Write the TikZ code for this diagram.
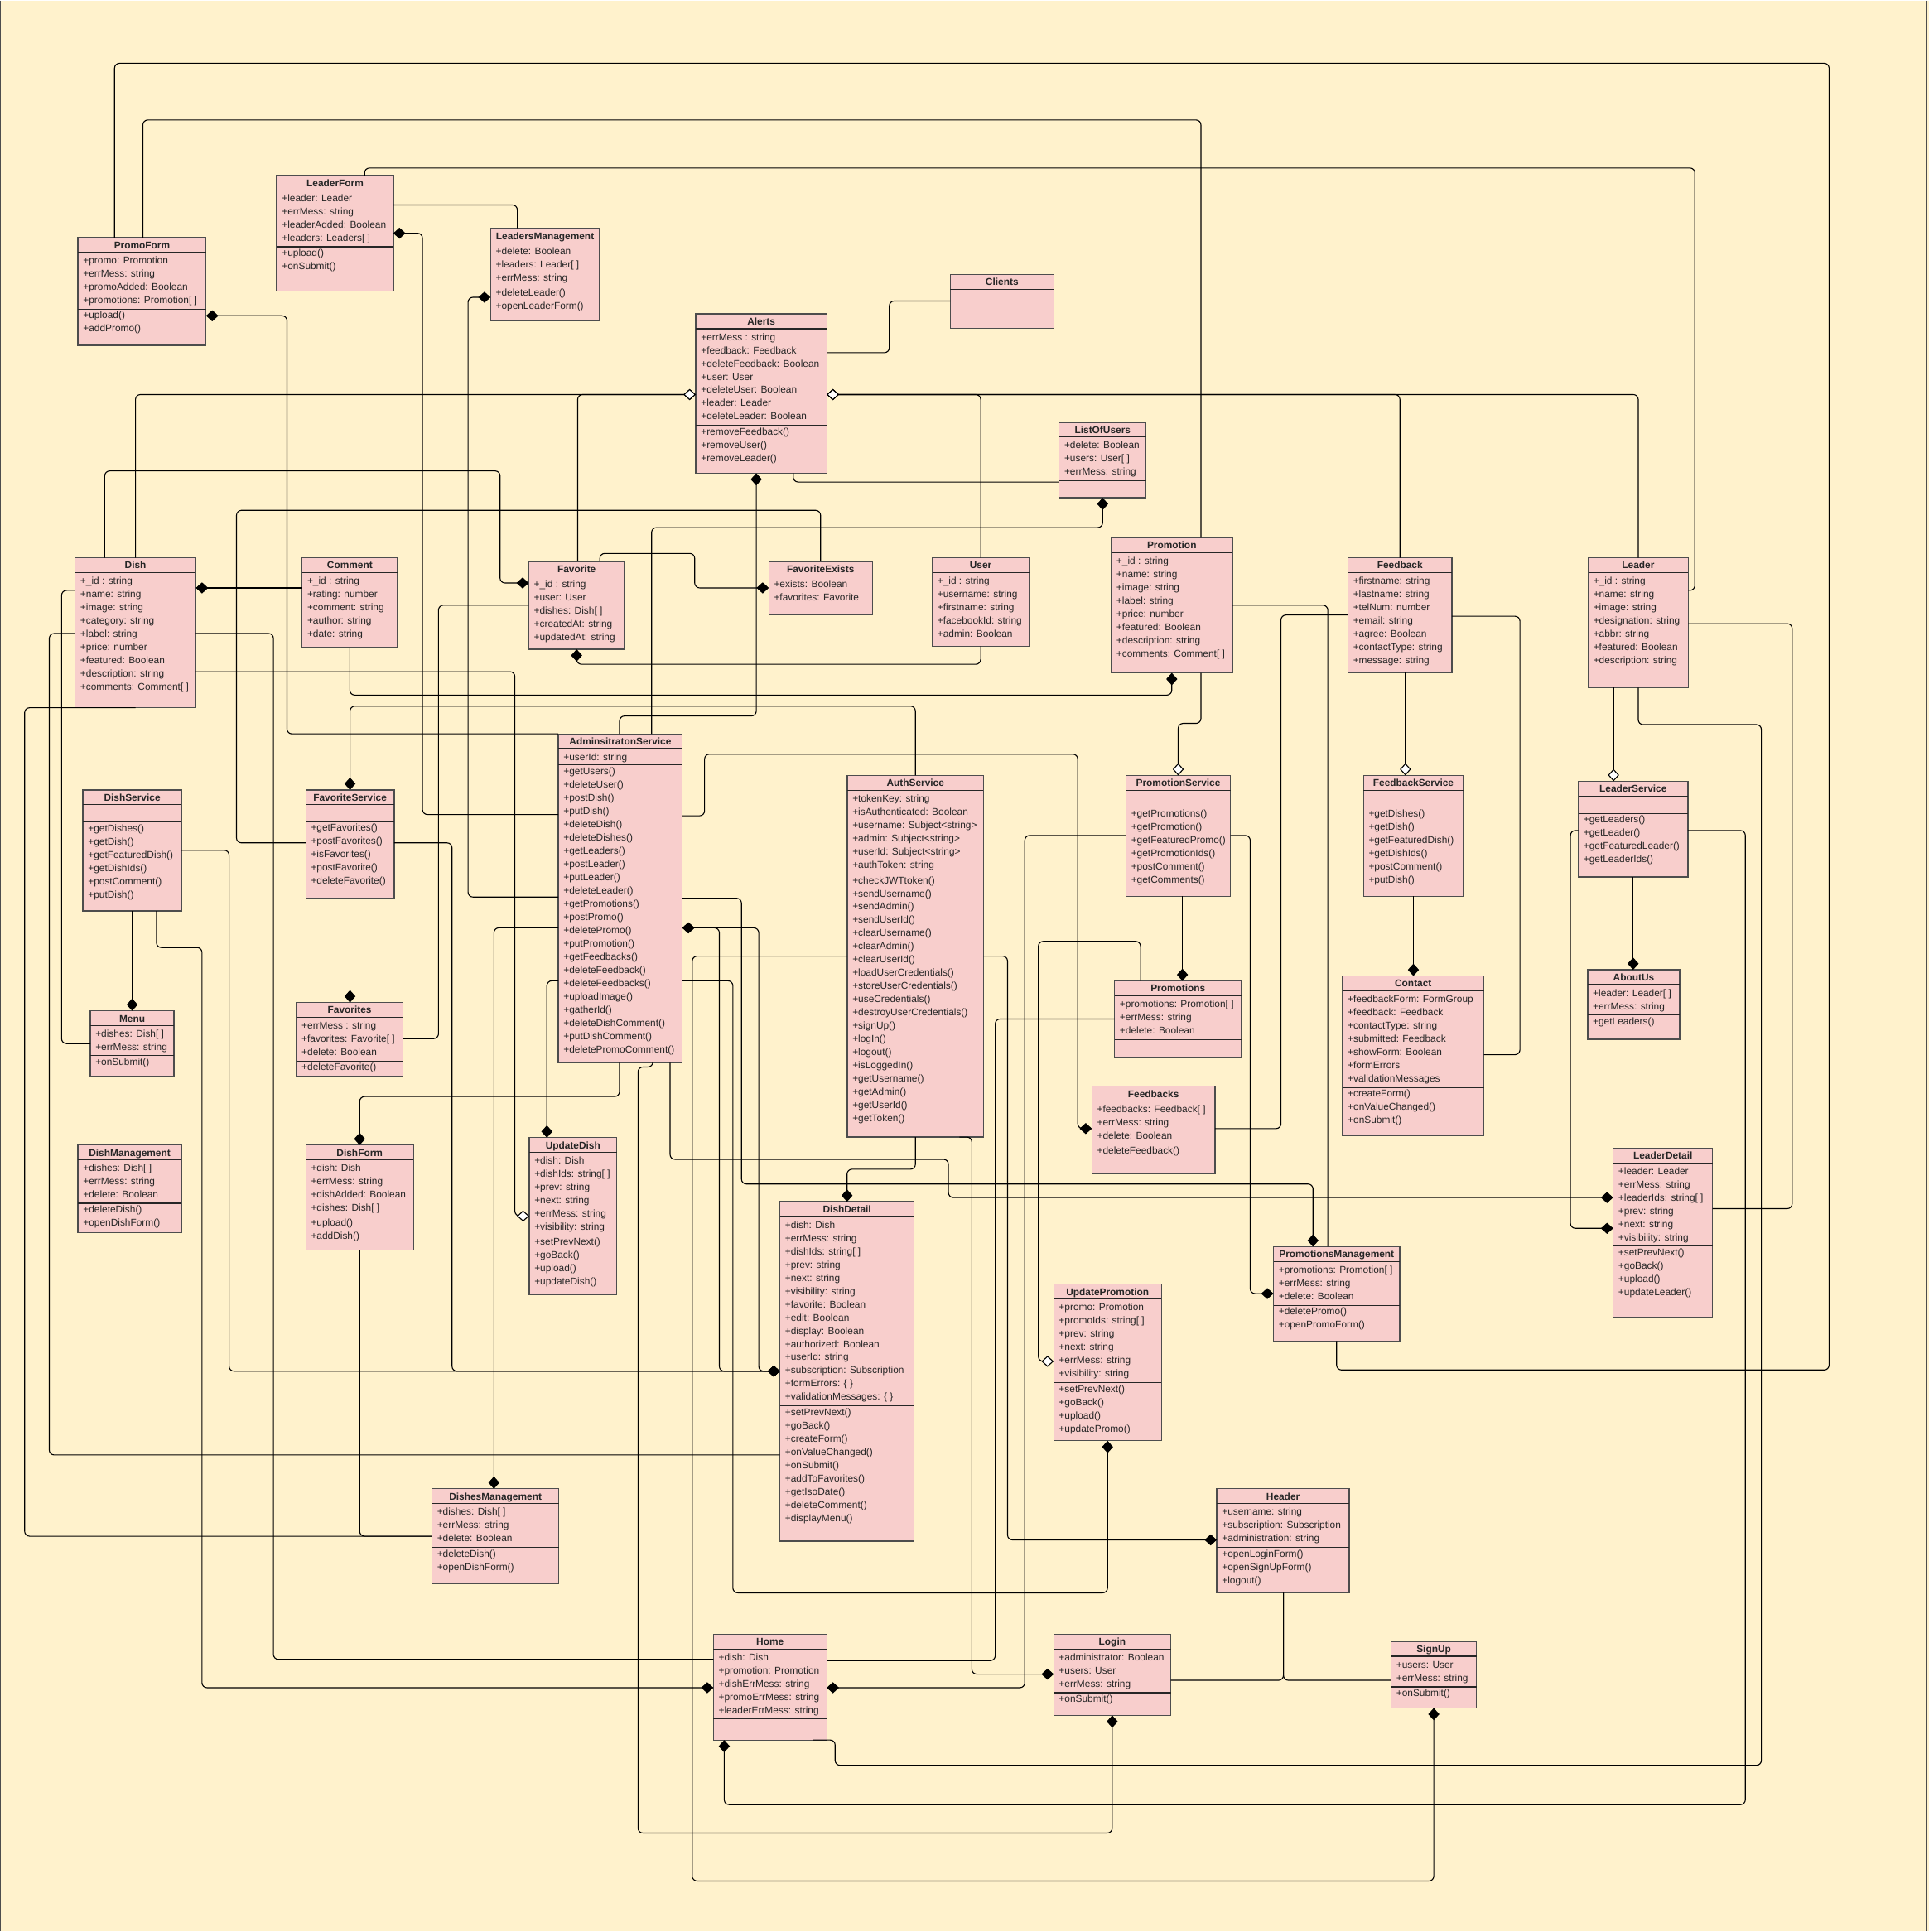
\documentclass[tikz,border=0pt]{standalone}
\usepackage{fontspec}
\setmainfont{Liberation Sans}
\usetikzlibrary{arrows.meta}
\definecolor{paper}{HTML}{FFF2CC}
\definecolor{boxfill}{HTML}{F8CECC}
\definecolor{boxline}{HTML}{4D4D4D}

\tikzset{
  classbox/.style={draw=boxline, fill=boxfill, line width=0.9pt, anchor=north west, inner sep=0pt, outer sep=0pt},
  classrule/.style={draw=black!85, line width=0.8pt},
  classname/.style={anchor=base, inner sep=0pt, text=black!85, font=\bfseries\fontsize{8}{10}\selectfont},
  member/.style={anchor=base west, inner sep=0pt, text=black!85, font=\fontsize{8}{10}\selectfont},
  conn/.style={line width=0.75pt, rounded corners=4pt},
  comp/.style={-{Diamond[length=10pt,width=9pt]}},
  agg/.style={-{Diamond[length=10pt,width=9pt,fill=white]}},
  comp2/.style={{Diamond[length=10pt,width=9pt]}-{Diamond[length=10pt,width=9pt]}}
}

% name, x1, y1, x2, y2, y of the rule above the methods, fields, methods
\newcommand{\umlclass}[8]{%
  \node [classbox, minimum width={#4-#2}, minimum height={#5-#3}] (#1) at (#2,#3) {};
  \draw [classrule] (#2,#3+12) -- (#4,#3+12);
  \node [classname] at ({(#2+#4)/2},#3+9) {#1};
  \foreach \mem [count=\i from 0] in {#7} \node [member] at (#2+4,#3+21.5+10.75*\i) {\mem};
  \ifx\relax#6\relax\else
    \draw [classrule] (#2,#6) -- (#4,#6);
    \foreach \mem [count=\i from 0] in {#8} \node [member] at (#2+4,#6+7.8+10.75*\i) {\mem};
  \fi}

\begin{document}
\begin{tikzpicture}[x=1pt,y=-1pt]
\fill [paper] (0,0) rectangle (1566,1568);
\draw [boxline, line width=0.8pt] (0.5,0) -- (0.5,1568);
\draw [boxline, line width=0.8pt] (1564,0) -- (1564,1568);

% classes
\umlclass{PromoForm}{63.3}{192.5}{167.3}{280}{250.5}{+promo: Promotion, +errMess: string, +promoAdded: Boolean, +promotions: Promotion[ ]}{+upload(), +addPromo()}
\umlclass{LeaderForm}{224.7}{142}{319.3}{236}{200}{+leader: Leader, +errMess: string, +leaderAdded: Boolean, +leaders: Leaders[ ]}{+upload(), +onSubmit()}
\umlclass{LeadersManagement}{398.3}{185}{486.7}{260.3}{232.5}{+delete: Boolean, +leaders: Leader[ ], +errMess: string}{+deleteLeader(), +openLeaderForm()}
\umlclass{Alerts}{564.9}{254.5}{671.2}{383.8}{345}{+errMess : string, +feedback: Feedback, +deleteFeedback: Boolean, +user: User, +deleteUser: Boolean, +leader: Leader, +deleteLeader: Boolean}{+removeFeedback(), +removeUser(), +removeLeader()}
\umlclass{Clients}{771.5}{222.5}{855.5}{266.3}{}{}{}
\umlclass{ListOfUsers}{859.9}{342.5}{930.5}{403.8}{390}{+delete: Boolean, +users: User[ ], +errMess: string}{}
\umlclass{Dish}{61}{452.5}{159}{574.3}{}{+\_id : string, +name: string, +image: string, +category: string, +label: string, +price: number, +featured: Boolean, +description: string, +comments: Comment[ ]}{}
\umlclass{Comment}{245.3}{452.5}{322.7}{525.5}{}{+\_id : string, +rating: number, +comment: string, +author: string, +date: string}{}
\umlclass{Favorite}{429.3}{455.5}{507}{526.8}{}{+\_id : string, +user: User, +dishes: Dish[ ], +createdAt: string, +updatedAt: string}{}
\umlclass{FavoriteExists}{624.2}{455.5}{708.2}{498.8}{}{+exists: Boolean, +favorites: Favorite}{}
\umlclass{User}{756.9}{452.5}{835.5}{524.3}{}{+\_id : string, +username: string, +firstname: string, +facebookId: string, +admin: Boolean}{}
\umlclass{Promotion}{902.2}{436.3}{1000.5}{546}{}{+\_id : string, +name: string, +image: string, +label: string, +price: number, +featured: Boolean, +description: string, +comments: Comment[ ]}{}
\umlclass{Feedback}{1094.4}{452.5}{1178.7}{545.5}{}{+firstname: string, +lastname: string, +telNum: number, +email: string, +agree: Boolean, +contactType: string, +message: string}{}
\umlclass{Leader}{1289.4}{452.5}{1370.7}{558}{}{+\_id : string, +name: string, +image: string, +designation: string, +abbr: string, +featured: Boolean, +description: string}{}
\umlclass{DishService}{67.3}{641}{147.3}{739.3}{667}{}{+getDishes(), +getDish(), +getFeaturedDish(), +getDishIds(), +postComment(), +putDish()}
\umlclass{FavoriteService}{248.3}{641}{320}{728.8}{666.8}{}{+getFavorites(), +postFavorites(), +isFavorites(), +postFavorite(), +deleteFavorite()}
\umlclass{AdminsitratonService}{453.3}{595.5}{553.9}{862.6}{620.8}{+userId: string}{+getUsers(), +deleteUser(), +postDish(), +putDish(), +deleteDish(), +deleteDishes(), +getLeaders(), +postLeader(), +putLeader(), +deleteLeader(), +getPromotions(), +postPromo(), +deletePromo(), +putPromotion(), +getFeedbacks(), +deleteFeedback(), +deleteFeedbacks(), +uploadImage(), +gatherId(), +deleteDishComment(), +putDishComment(), +deletePromoComment()}
\umlclass{AuthService}{687.9}{629.3}{798.5}{922.9}{709.3}{+tokenKey: string, +isAuthenticated: Boolean, +username: Subject<string>, +admin: Subject<string>, +userId: Subject<string>, +authToken: string}{+checkJWTtoken(), +sendUsername(), +sendAdmin(), +sendUserId(), +clearUsername(), +clearAdmin(), +clearUserId(), +loadUserCredentials(), +storeUserCredentials(), +useCredentials(), +destroyUserCredentials(), +signUp(), +logIn(), +logout(), +isLoggedIn(), +getUsername(), +getAdmin(), +getUserId(), +getToken()}
\umlclass{PromotionService}{914.2}{629.3}{998.9}{727.5}{655}{}{+getPromotions(), +getPromotion(), +getFeaturedPromo(), +getPromotionIds(), +postComment(), +getComments()}
\umlclass{FeedbackService}{1107}{629.3}{1188}{727.5}{655}{}{+getDishes(), +getDish(), +getFeaturedDish(), +getDishIds(), +postComment(), +putDish()}
\umlclass{LeaderService}{1281.4}{634}{1370.4}{711.8}{660}{}{+getLeaders(), +getLeader(), +getFeaturedLeader(), +getLeaderIds()}
\umlclass{Menu}{73.3}{820.4}{141.3}{873.6}{856.6}{+dishes: Dish[ ], +errMess: string}{+onSubmit()}
\umlclass{Favorites}{240.7}{813.6}{327}{873.6}{861.1}{+errMess : string, +favorites: Favorite[ ], +delete: Boolean}{+deleteFavorite()}
\umlclass{Promotions}{904.9}{796.1}{1007.9}{857.9}{843.6}{+promotions: Promotion[ ], +errMess: string, +delete: Boolean}{}
\umlclass{Contact}{1090}{792.1}{1204.7}{921.4}{882.6}{+feedbackForm: FormGroup, +feedback: Feedback, +contactType: string, +submitted: Feedback, +showForm: Boolean, +formErrors, +validationMessages}{+createForm(), +onValueChanged(), +onSubmit()}
\umlclass{AboutUs}{1289}{787.1}{1363.7}{843.6}{823.6}{+leader: Leader[ ], +errMess: string}{+getLeaders()}
\umlclass{Feedbacks}{886.5}{881.6}{986.5}{952.6}{928.6}{+feedbacks: Feedback[ ], +errMess: string, +delete: Boolean}{+deleteFeedback()}
\umlclass{DishManagement}{63.3}{929.4}{147.3}{1000.4}{976.6}{+dishes: Dish[ ], +errMess: string, +delete: Boolean}{+deleteDish(), +openDishForm()}
\umlclass{DishForm}{248.3}{929.4}{335.7}{1014.8}{987.6}{+dish: Dish, +errMess: string, +dishAdded: Boolean, +dishes: Dish[ ]}{+upload(), +addDish()}
\umlclass{UpdateDish}{429.7}{923.4}{500.7}{1050.6}{1003.1}{+dish: Dish, +dishIds: string[ ], +prev: string, +next: string, +errMess: string, +visibility: string}{+setPrevNext(), +goBack(), +upload(), +updateDish()}
\umlclass{DishDetail}{633.2}{975.4}{742.2}{1251}{1141.1}{+dish: Dish, +errMess: string, +dishIds: string[ ], +prev: string, +next: string, +visibility: string, +favorite: Boolean, +edit: Boolean, +display: Boolean, +authorized: Boolean, +userId: string, +subscription: Subscription, +formErrors: \{ \}, +validationMessages: \{ \}}{+setPrevNext(), +goBack(), +createForm(), +onValueChanged(), +onSubmit(), +addToFavorites(), +getIsoDate(), +deleteComment(), +displayMenu()}
\umlclass{LeaderDetail}{1309.7}{931.9}{1390.4}{1069.4}{1011.4}{+leader: Leader, +errMess: string, +leaderIds: string[ ], +prev: string, +next: string, +visibility: string}{+setPrevNext(), +goBack(), +upload(), +updateLeader()}
\umlclass{PromotionsManagement}{1033.9}{1011.9}{1136.4}{1088.6}{1059.6}{+promotions: Promotion[ ], +errMess: string, +delete: Boolean}{+deletePromo(), +openPromoForm()}
\umlclass{UpdatePromotion}{855.5}{1042.4}{942.9}{1169.5}{1122.4}{+promo: Promotion, +promoIds: string[ ], +prev: string, +next: string, +errMess: string, +visibility: string}{+setPrevNext(), +goBack(), +upload(), +updatePromo()}
\umlclass{DishesManagement}{350.7}{1208.5}{453.7}{1285.3}{1256.3}{+dishes: Dish[ ], +errMess: string, +delete: Boolean}{+deleteDish(), +openDishForm()}
\umlclass{Header}{987.9}{1208.5}{1095.4}{1293}{1256.3}{+username: string, +subscription: Subscription, +administration: string}{+openLoginForm(), +openSignUpForm(), +logout()}
\umlclass{Home}{579.2}{1326.5}{671.2}{1412.5}{1395.5}{+dish: Dish, +promotion: Promotion, +dishErrMess: string, +promoErrMess: string, +leaderErrMess: string}{}
\umlclass{Login}{855.5}{1326.5}{950.5}{1392.5}{1374}{+administrator: Boolean, +users: User, +errMess: string}{+onSubmit()}
\umlclass{SignUp}{1129.4}{1332.5}{1198.7}{1386.5}{1369.3}{+users: User, +errMess: string}{+onSubmit()}

% connectors
\draw [conn] (PromoForm.north -| 93,0) -- (93,51) -- (1485,51) -- (1485,1112) -- (PromotionsManagement.south |- 0,1112) -- (PromotionsManagement.south);
\draw [conn] (PromoForm.north -| 116,0) -- (116,97) -- (975,97) -- (Promotion.north -| 975,0);
\draw [conn] (LeaderForm.north -| 296,0) -- (296,136) -- (1376,136) -- (1376,479) -- (Leader.east |- 0,479);
\draw [conn] (LeaderForm.east |- 0,166) -- (420,166) -- (LeadersManagement.north -| 420,0);
\draw [conn, comp] (AdminsitratonService.west |- 0,661) -- (343,661) -- (343,189) -- (LeaderForm.east |- 0,189);
\draw [conn, comp] (AdminsitratonService.west |- 0,728) -- (380,728) -- (380,241) -- (LeadersManagement.west |- 0,241);
\draw [conn, comp] (AdminsitratonService.north west) -- (233,595.5) -- (233,256) -- (PromoForm.east |- 0,256);
\draw [conn, agg] (Dish.north) -- (Dish.north |- 0,320) -- (Alerts.west |- 0,320);
\draw [conn, agg] (Favorite.north -| 469,0) -- (469,320) -- (Alerts.west |- 0,320);
\draw [conn, comp] (Dish.north -| 85,0) -- (85,382) -- (406,382) -- (406,473) -- (Favorite.west |- 0,473);
\draw [conn, agg] (User.north) -- (User.north |- 0,320) -- (Alerts.east |- 0,320);
\draw [conn, agg] (Feedback.north) -- (Feedback.north |- 0,320) -- (Alerts.east |- 0,320);
\draw [conn, agg] (Leader.north) -- (Leader.north |- 0,320) -- (Alerts.east |- 0,320);
\draw [conn] (Alerts.east |- 0,286) -- (722,286) -- (722,244) -- (Clients.west |- 0,244);
\draw [conn] (Alerts.south -| 644,0) -- (644,391) -- (ListOfUsers.west |- 0,391);
\draw [conn, comp] (AdminsitratonService.north -| 503,0) -- (503,581) -- (614,581) -- (Alerts.south -| 614,0);
\draw [conn, comp] (AdminsitratonService.north -| 529,0) -- (529,428) -- (ListOfUsers.south |- 0,428) -- (ListOfUsers.south);
\draw [conn, comp] (Favorite.north -| 487,0) -- (487,449) -- (564,449) -- (564,477) -- (FavoriteExists.west |- 0,477);
\draw [conn] (FavoriteExists.north) -- (FavoriteExists.north |- 0,414) -- (192,414) -- (192,684) -- (FavoriteService.west |- 0,684);
\draw [conn, comp] (User.south) -- (User.south |- 0,539) -- (Favorite.south |- 0,539) -- (Favorite.south);
\draw [conn] (Favorites.east |- 0,843) -- (356,843) -- (356,491) -- (Favorite.west |- 0,491);
\draw [conn, comp] (Comment.west |- 0,477) -- (Dish.east |- 0,477);
\draw [conn, comp] (Comment.south) -- (Comment.south |- 0,564) -- (Promotion.south |- 0,564) -- (Promotion.south);
\draw [conn] (Dish.east |- 0,514) -- (222,514) -- (222,1347) -- (Home.west |- 0,1347);
\draw [conn, agg] (Dish.east |- 0,545) -- (418,545) -- (418,987) -- (UpdateDish.west |- 0,987);
\draw [conn] (Dish.west |- 0,479) -- (50,479) -- (50,847) -- (Menu.west |- 0,847);
\draw [conn] (Dish.west |- 0,514) -- (40,514) -- (40,1181) -- (DishDetail.west |- 0,1181);
\draw [conn] (Dish.south) -- (20,574.3) -- (20,1247) -- (DishesManagement.west |- 0,1247);
\draw [conn, comp] (DishService.east |- 0,690) -- (186,690) -- (186,1113) -- (DishDetail.west |- 0,1113);
\draw [conn, comp] (FavoriteService.east |- 0,684) -- (367,684) -- (367,1113) -- (DishDetail.west |- 0,1113);
\draw [conn, comp2] (AdminsitratonService.east |- 0,753) -- (584,753) -- (584,1113) -- (DishDetail.west |- 0,1113);
\draw [conn, comp2] (AdminsitratonService.east |- 0,753) -- (616,753) -- (616,1113) -- (DishDetail.west |- 0,1113);
\draw [conn, comp] (AdminsitratonService.east |- 0,729) -- (602,729) -- (602,961) -- (1066,961) -- (PromotionsManagement.north -| 1066,0);
\draw [conn, comp] (AdminsitratonService.south -| 544,0) -- (544,941) -- (770,941) -- (770,972) -- (LeaderDetail.west |- 0,972);
\draw [conn, comp] (LeaderService.west |- 0,674) -- (1275,674) -- (1275,997) -- (LeaderDetail.west |- 0,997);
\draw [conn] (Leader.east |- 0,506) -- (1455,506) -- (1455,981) -- (LeaderDetail.east |- 0,981);
\draw [conn] (Leader.south) -- (Leader.south |- 0,588) -- (1430,588) -- (1430,1433) -- (678,1433) -- (678,1412.5) -- (Home.south -| 660,0);
\draw [conn, comp] (LeaderService.south) -- (AboutUs.north -| LeaderService.south);
\draw [conn, agg] (Leader.south -| 1310,0) -- (LeaderService.north -| 1310,0);
\draw [conn, comp] (LeaderService.east |- 0,674) -- (1417,674) -- (1417,1465) -- (588,1465) -- (Home.south -| 588,0);
\draw [conn, agg] (Feedback.south -| 1141,0) -- (FeedbackService.north -| 1141,0);
\draw [conn] (Feedback.east |- 0,500) -- (1234,500) -- (1234,856) -- (Contact.east |- 0,856);
\draw [conn, comp] (FeedbackService.south) -- (Contact.north -| FeedbackService.south);
\draw [conn] (Promotion.east |- 0,491) -- (1078,491) -- (PromotionsManagement.north -| 1078,0);
\draw [conn] (Feedback.west |- 0,499) -- (1040,499) -- (1040,916) -- (Feedbacks.east |- 0,916);
\draw [conn, agg] (Promotion.south -| 975,0) -- (975,587) -- (PromotionService.north |- 0,587) -- (PromotionService.north);
\draw [conn, comp] (PromotionService.south -| 960,0) -- (Promotions.north -| 960,0);
\draw [conn, comp] (PromotionService.west |- 0,678) -- (832,678) -- (832,1370) -- (Home.east |- 0,1370);
\draw [conn, comp] (PromotionService.east |- 0,678) -- (1015,678) -- (1015,1050) -- (PromotionsManagement.west |- 0,1050);
\draw [conn, comp] (AdminsitratonService.east |- 0,662) -- (572,662) -- (572,612) -- (875,612) -- (875,916) -- (Feedbacks.west |- 0,916);
\draw [conn, comp] (AuthService.north) -- (AuthService.north |- 0,573) -- (FavoriteService.north |- 0,573) -- (FavoriteService.north);
\draw [conn, comp] (AuthService.south) -- (AuthService.south |- 0,949) -- (DishDetail.north |- 0,949) -- (DishDetail.north);
\draw [conn, comp] (AuthService.south -| 779,0) -- (AuthService.south -| 789,0) -- (789,1359) -- (Login.west |- 0,1359);
\draw [conn, comp] (AuthService.east |- 0,776) -- (818,776) -- (818,1250) -- (Header.west |- 0,1250);
\draw [conn, comp] (AuthService.west |- 0,776) -- (562,776) -- (562,1527) -- (SignUp.south |- 0,1527) -- (SignUp.south);
\draw [conn, comp] (AdminsitratonService.west |- 0,753) -- (401,753) -- (DishesManagement.north -| 401,0);
\draw [conn, comp] (AdminsitratonService.west |- 0,796) -- (444,796) -- (UpdateDish.north -| 444,0);
\draw [conn, comp] (AdminsitratonService.south -| 503,0) -- (503,890) -- (DishForm.north |- 0,890) -- (DishForm.north);
\draw [conn] (DishForm.south) -- (DishForm.south |- 0,1247) -- (DishesManagement.west |- 0,1247);
\draw [conn, comp] (DishService.south -| 127,0) -- (127,769) -- (164,769) -- (164,1370) -- (Home.west |- 0,1370);
\draw [conn, comp] (DishService.south) -- (Menu.north -| DishService.south);
\draw [conn, comp] (FavoriteService.south) -- (Favorites.north -| FavoriteService.south);
\draw [conn] (Home.east |- 0,1348) -- (808,1348) -- (808,827) -- (Promotions.west |- 0,827);
\draw [conn, agg] (Promotions.north -| 926,0) -- (926,764) -- (843,764) -- (843,1105) -- (UpdatePromotion.west |- 0,1105);
\draw [conn, comp] (AdminsitratonService.east |- 0,796) -- (595,796) -- (595,1293) -- (UpdatePromotion.south |- 0,1293) -- (UpdatePromotion.south);
\draw [conn, comp] (AdminsitratonService.south -| 530,0) -- (530,866) -- (518,866) -- (518,1488) -- (Login.south |- 0,1488) -- (Login.south);
\draw [conn] (Login.east |- 0,1364) -- (1042,1364) -- (Header.south -| 1042,0);
\draw [conn] (SignUp.west |- 0,1364) -- (1042,1364) -- (Header.south -| 1042,0);
\end{tikzpicture}
\end{document}
